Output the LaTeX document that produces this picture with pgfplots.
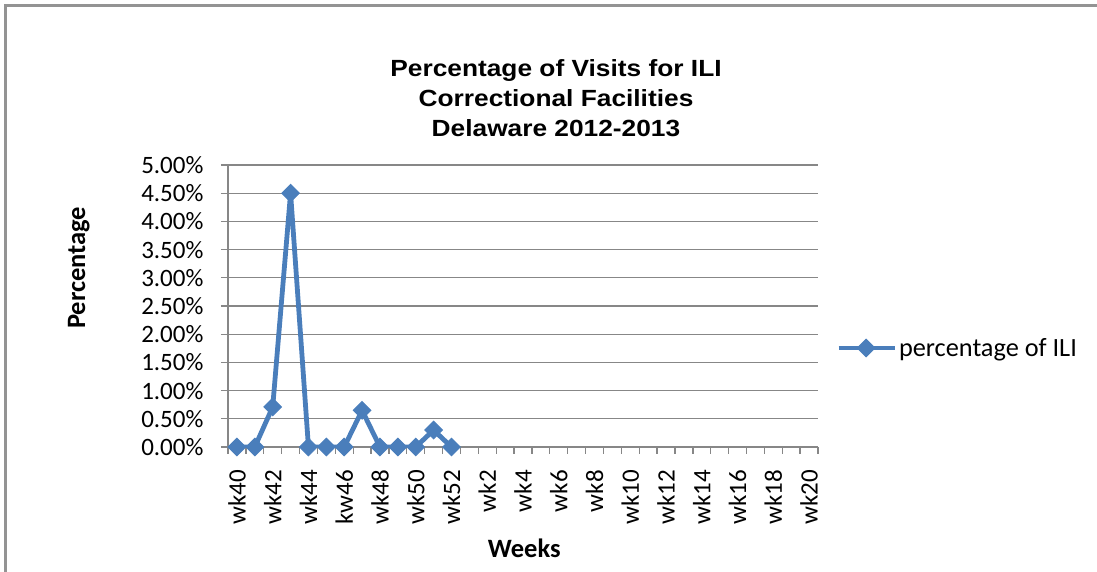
\documentclass[border=0pt]{standalone}
\usepackage{fontspec}
\setmainfont{Carlito}
\newfontfamily\titlefont{Liberation Sans}
\usepackage{graphicx}
\usepackage{pgfplots}
\pgfplotsset{compat=1.18}
\definecolor{xlblue}{HTML}{4A7EBB}
\definecolor{gridgray}{HTML}{878787}
\begin{document}
\begin{tikzpicture}[x=1pt,y=1pt]
\useasboundingbox (0,0) rectangle (1097,572);
\draw[gray!85, line width=2.5pt] (5.5,0) -- (5.5,566.5) -- (1097,566.5);
\node[inner sep=0pt] at (556,471)
  {\scalebox{1}[0.89]{\titlefont\bfseries\fontsize{26.3}{33.7}\selectfont
   \begin{tabular}{@{}c@{}}Percentage of Visits for ILI\\Correctional Facilities\\Delaware 2012-2013\end{tabular}}};
\begin{axis}[
  at={(228pt,125pt)}, anchor=south west,
  scale only axis, width=590pt, height=282pt,
  xmin=-0.5, xmax=32.5, ymin=0, ymax=5,
  /pgf/number format/assume math mode=true,
  font=\fontsize{25}{30}\selectfont,
  axis lines*=left,
  axis line style={gridgray, line width=1.3pt, -},
  ymajorgrids, grid style={gridgray, line width=1.3pt},
  tick align=outside, major tick length=7pt,
  tick style={gridgray, line width=1.3pt},
  ytick={0,0.5,1,1.5,2,2.5,3,3.5,4,4.5,5},
  yticklabel={\pgfmathprintnumber[fixed,fixed zerofill,precision=2]{\tick}\%},
  yticklabel style={xshift=-14pt},
  xtick={-0.5,0.5,...,32.5},
  xticklabels={},
  extra x ticks={0,2,...,32},
  extra x tick labels={wk40,wk42,wk44,kw46,wk48,wk50,wk52,wk2,wk4,wk6,wk8,wk10,wk12,wk14,wk16,wk18,wk20},
  extra x tick style={major tick length=0pt, xticklabel style={rotate=90, anchor=east, inner sep=0pt, xshift=-23pt}},
  xtick pos=bottom, ytick pos=left,
  xlabel={\bfseries Weeks},
  ylabel={\bfseries Percentage},
  every axis x label/.style={at={(axis description cs:0.502,-0.358)}, anchor=center, font=\fontsize{26.5}{30}\selectfont},
  every axis y label/.style={at={(axis description cs:-0.253,0.635)}, anchor=center, rotate=90, font=\fontsize{26.5}{30}\selectfont},
  legend style={draw=none, fill=none, at={(1.0305,0.351)}, anchor=west, font=\fontsize{26.3}{30}\selectfont,
    inner sep=0pt, /tikz/every even column/.append style={column sep=2pt}},
  legend image code/.code={\draw[#1, mark repeat=2, mark phase=2] plot coordinates {(0pt,0pt) (27.5pt,0pt) (56pt,0pt)};},
]
\addplot[color=xlblue, line width=4.8pt, mark=square*, mark size=6.2pt,
  mark options={rotate=45, solid, line width=1pt}]
  coordinates {(0,0) (1,0) (2,0.71) (3,4.50) (4,0) (5,0) (6,0) (7,0.65) (8,0) (9,0) (10,0) (11,0.30) (12,0)};
\addlegendentry{percentage of ILI}
\end{axis}
\end{tikzpicture}
\end{document}
